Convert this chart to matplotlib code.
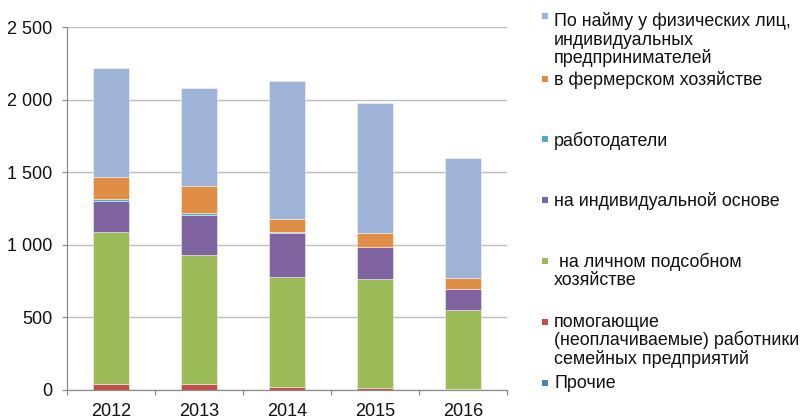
import matplotlib
matplotlib.use("Agg")
import matplotlib.pyplot as plt
from matplotlib.patches import Rectangle
from matplotlib.ticker import FuncFormatter, MultipleLocator
import numpy as np

plt.rcParams['font.family'] = ['Liberation Sans', 'DejaVu Sans']

years = ["2012", "2013", "2014", "2015", "2016"]

# Series, bottom to top
prochie = [2, 2, 1, 1, 1]
pomogayushchie = [40, 38, 18, 10, 8]
lichnoe = [1048, 892, 762, 754, 545]
individ = [209, 275, 303, 218, 139]
rabotodateli = [14, 9, 7, 2, 1]
fermer = [154, 186, 87, 99, 77]
po_naimu = [753, 680, 949, 894, 827]

series = [prochie, pomogayushchie, lichnoe, individ, rabotodateli, fermer, po_naimu]
labels = [
    "Прочие",
    "помогающие\n(неоплачиваемые) работники\nсемейных предприятий",
    " на личном подсобном\nхозяйстве",
    "на индивидуальной основе",
    "работодатели",
    "в фермерском хозяйстве",
    "По найму у физических лиц,\nиндивидуальных\nпредпринимателей",
]
colors = ["#4F81BD", "#C0504D", "#9BBB59", "#8064A2", "#4BACC6", "#E08E45", "#9EB3D7"]

W, H = 805, 418
fig = plt.figure(figsize=(W / 100, H / 100), dpi=100)
ax = fig.add_axes([67 / W, 1 - 390 / H, (507 - 67) / W, (390 - 27) / H])

x = np.arange(len(years))
bottom = np.zeros(len(years))
for vals, col in zip(series, colors):
    v = np.array(vals, dtype=float)
    ax.bar(x, v, width=0.4, bottom=bottom, color=col, edgecolor=(1, 1, 1, 0.5),
           linewidth=0.6, zorder=3)
    bottom += v

ax.set_xlim(-0.5, len(years) - 0.5)
ax.set_ylim(0, 2500)
ax.yaxis.set_major_locator(MultipleLocator(500))
ax.yaxis.set_major_formatter(FuncFormatter(lambda v, p: f"{v:,.0f}".replace(",", " ")))
ax.grid(axis='y', color='#BEBEBE', linewidth=1.0, zorder=0)
ax.set_axisbelow(True)

ax.set_xticks(x)
ax.set_xticklabels(years)
ax.set_xticks(np.arange(-0.5, len(years), 1.0), minor=True)
ax.tick_params(axis='x', which='major', length=0, pad=9, labelsize=13, labelcolor='#111111')
ax.tick_params(axis='x', which='minor', length=3.6, color='#8C8C8C', width=0.9)
ax.tick_params(axis='y', which='major', length=3.6, color='#8C8C8C', width=0.9, pad=7,
               labelsize=13, labelcolor='#111111')

for s in ['top', 'right']:
    ax.spines[s].set_visible(False)
for s in ['left', 'bottom']:
    ax.spines[s].set_color('#8C8C8C')
    ax.spines[s].set_linewidth(0.9)

# Legend (top entry first), drawn manually to match spacing
marker_centers = [16, 79, 139, 200, 261, 322, 383]
baselines = [26.5, 85, 146, 206, 267, 327, 388]
line_step = 18.3
for i, (lab, col) in enumerate(zip(labels[::-1], colors[::-1])):
    mc = marker_centers[i]
    fig.patches.append(Rectangle((541.5 / W, 1 - (mc + 3) / H), 6 / W, 6 / H,
                                 transform=fig.transFigure, facecolor=col,
                                 edgecolor='none', figure=fig))
    for j, line in enumerate(lab.split("\n")):
        fig.text(554 / W, 1 - (baselines[i] + j * line_step) / H, line,
                 fontsize=12.9, va='baseline', ha='left', color='#111111')

fig.savefig("out.png", dpi=100)
